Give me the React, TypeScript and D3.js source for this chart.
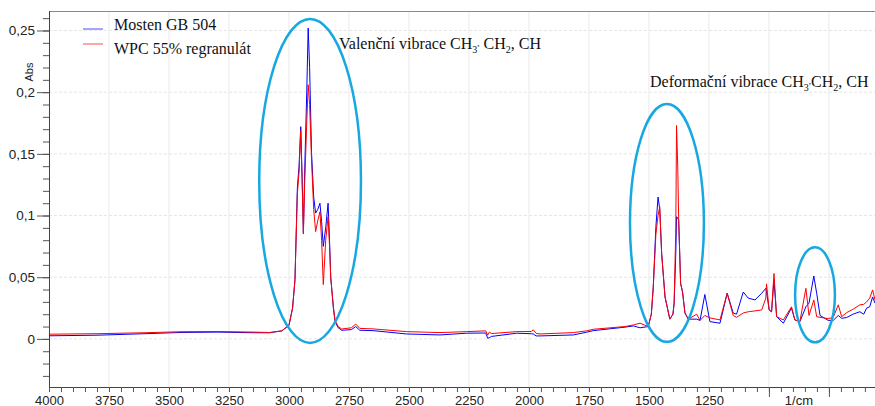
import React, { useEffect, useRef } from 'react'
import * as d3 from 'd3'

// wavenumber (1/cm) and absorbance
const WAVENUMBER = [
  4000, 3800, 3600, 3450, 3300, 3150, 3080, 3030, 3000, 2985, 2975, 2965, 2958, 2951, 2945, 2940,
  2934, 2926, 2920, 2914, 2906, 2897, 2889, 2880, 2871, 2864, 2857, 2847, 2837, 2831, 2826, 2815,
  2808, 2795, 2780, 2740, 2722, 2705, 2650, 2510, 2371, 2260, 2180, 2172, 2165, 2156, 2051, 1990,
  1982, 1970, 1954, 1815, 1760, 1732, 1600, 1565, 1537, 1503, 1490, 1482, 1471, 1462, 1455, 1447,
  1433, 1413, 1400, 1395, 1388, 1385, 1380, 1376, 1368, 1360, 1350, 1336, 1301, 1287, 1267, 1246,
  1204, 1174, 1149, 1135, 1107, 1086, 1058, 1030, 1013, 1010, 999, 989, 979, 968, 940, 906,
  892, 871, 846, 833, 813, 801, 787, 753, 732, 711, 697, 676, 650, 621, 605, 593,
  580, 568, 558,
]

const MOSTEN = [
  0.0025, 0.003, 0.0042, 0.0052, 0.0055, 0.005, 0.005, 0.0065, 0.011, 0.025, 0.048, 0.123, 0.14, 0.172, 0.13, 0.086,
  0.14, 0.2, 0.252, 0.22, 0.151, 0.115, 0.102, 0.105, 0.11, 0.095, 0.075, 0.09, 0.11, 0.08, 0.05, 0.025,
  0.014, 0.009, 0.007, 0.0075, 0.01, 0.007, 0.0067, 0.004, 0.0032, 0.0046, 0.0048, 0.0005, 0.001, 0.002, 0.0046, 0.0042,
  0.004, 0.0024, 0.0024, 0.0032, 0.0054, 0.0067, 0.0095, 0.0105, 0.009, 0.01, 0.02, 0.042, 0.091, 0.115, 0.105, 0.069,
  0.034, 0.016, 0.02, 0.029, 0.07, 0.099, 0.098, 0.096, 0.045, 0.038, 0.021, 0.016, 0.016, 0.015, 0.036, 0.014,
  0.0127, 0.037, 0.021, 0.02, 0.038, 0.033, 0.0316, 0.037, 0.041, 0.038, 0.0235, 0.022, 0.048, 0.018, 0.0127, 0.025,
  0.0154, 0.014, 0.026, 0.029, 0.051, 0.037, 0.019, 0.015, 0.015, 0.019, 0.0167, 0.0173, 0.02, 0.022, 0.02, 0.025,
  0.026, 0.034, 0.029,
]

const WPC = [
  0.0038, 0.0042, 0.005, 0.0058, 0.006, 0.0055, 0.0052, 0.0065, 0.011, 0.025, 0.048, 0.118, 0.135, 0.169, 0.125, 0.085,
  0.13, 0.175, 0.206, 0.19, 0.145, 0.105, 0.087, 0.096, 0.103, 0.08, 0.044, 0.08, 0.099, 0.075, 0.05, 0.026,
  0.015, 0.01, 0.008, 0.009, 0.012, 0.0085, 0.0081, 0.0059, 0.0051, 0.0059, 0.0065, 0.003, 0.0055, 0.0043, 0.0059, 0.006,
  0.0073, 0.0045, 0.004, 0.0051, 0.0065, 0.0078, 0.01, 0.0113, 0.0127, 0.01, 0.02, 0.042, 0.085, 0.1, 0.107, 0.069,
  0.034, 0.016, 0.02, 0.029, 0.09, 0.173, 0.14, 0.096, 0.045, 0.038, 0.021, 0.016, 0.02, 0.015, 0.019, 0.017,
  0.0154, 0.037, 0.019, 0.0175, 0.021, 0.022, 0.0227, 0.0235, 0.033, 0.0446, 0.0235, 0.022, 0.053, 0.018, 0.0154, 0.026,
  0.0154, 0.014, 0.041, 0.019, 0.0316, 0.018, 0.0175, 0.0164, 0.0175, 0.0276, 0.018, 0.0213, 0.024, 0.0276, 0.028, 0.03,
  0.033, 0.0397, 0.0316,
]

const SERIES_NAMES = ['Mosten GB 504', 'WPC 55% regranulát']
const SERIES_COLORS = ['#0000ff', '#ff0000']

const X_LABELS = [4000, 3750, 3500, 3250, 3000, 2750, 2500, 2250, 2000, 1750, 1500, 1250]
const X_UNLABELLED = [1000, 750]
const Y_LABELS = [0, 0.05, 0.1, 0.15, 0.2, 0.25]

// highlighted bands: centre wavenumber, centre abs, half-width (1/cm), half-height (abs)
const ELLIPSES = [
  { w: 2912, v: 0.128, dw: 212, dv: 0.1313 },
  { w: 1425, v: 0.094, dw: 154, dv: 0.0964 },
  { w: 808, v: 0.0357, dw: 83, dv: 0.0385 },
]

const App = () => {
  const svgRef = useRef<SVGSVGElement>(null)

  const width = 875
  const height = 406
  const margin = { top: 11, right: 0, bottom: 19, left: 49 }

  useEffect(() => {
    const svg = d3.select(svgRef.current)
    svg.selectAll('*').remove()

    const x = d3.scaleLinear().domain([4000, 558]).range([margin.left, width - margin.right])
    const y = d3.scaleLinear().domain([-0.039, 0.2658]).range([height - margin.bottom, margin.top])
    const sans = 'Liberation Sans, Arial, sans-serif'
    const serif = 'Liberation Serif, Times New Roman, serif'

    // grid
    svg.append('g')
      .selectAll('line')
      .data(X_LABELS.concat(X_UNLABELLED).filter(d => d !== 4000))
      .enter().append('line')
      .attr('x1', d => x(d)).attr('x2', d => x(d))
      .attr('y1', margin.top).attr('y2', height - margin.bottom)
      .attr('stroke', '#e9e9e9')
    svg.append('g')
      .selectAll('line')
      .data(Y_LABELS)
      .enter().append('line')
      .attr('x1', margin.left).attr('x2', width)
      .attr('y1', d => y(d)).attr('y2', d => y(d))
      .attr('stroke', '#e6e6e6')
      .attr('stroke-dasharray', '3,2')

    // top frame line
    svg.append('line')
      .attr('x1', margin.left).attr('x2', width)
      .attr('y1', margin.top + 0.5).attr('y2', margin.top + 0.5)
      .attr('stroke', '#8a8a8a')

    // y axis
    const yMinor = d3.range(-3, 27).map(i => i / 100)
    svg.append('g')
      .attr('transform', `translate(${margin.left},0)`)
      .call(d3.axisLeft(y).tickValues(yMinor).tickSize(6).tickFormat(() => ''))
      .call(g => g.select('.domain').remove())
      .selectAll('line').attr('stroke', '#555')
    const yAxis = svg.append('g')
      .attr('transform', `translate(${margin.left},0)`)
      .call(d3.axisLeft(y).tickValues(Y_LABELS).tickSize(12).tickPadding(2)
        .tickFormat(d => d3.format('~g')(d as number).replace('.', ',')))
    yAxis.select('.domain').attr('stroke', '#444').attr('d', `M0.5,${margin.top}V${height - margin.bottom}`)
    yAxis.selectAll('line').attr('stroke', '#555')
    yAxis.selectAll('text').attr('font-family', sans).attr('font-size', 13.5).attr('fill', '#222')

    svg.append('text')
      .attr('transform', 'translate(33,72) rotate(-90)')
      .attr('text-anchor', 'middle')
      .attr('font-family', sans).attr('font-size', 11).attr('fill', '#222')
      .text('Abs')

    // x axis
    const xAxisY = height - margin.bottom
    const xMinor = d3.range(0, 69).map(i => 4000 - i * 50)
    svg.append('g')
      .attr('transform', `translate(0,${xAxisY})`)
      .call(d3.axisBottom(x).tickValues(xMinor).tickSize(5).tickFormat(() => ''))
      .call(g => g.select('.domain').attr('stroke', '#444').attr('d', `M${margin.left},0.5H${width}`))
      .selectAll('line').attr('stroke', '#555')
    svg.append('g')
      .attr('transform', `translate(0,${xAxisY})`)
      .call(d3.axisBottom(x).tickValues(X_UNLABELLED).tickSize(10).tickFormat(() => ''))
      .call(g => g.select('.domain').remove())
      .selectAll('line').attr('stroke', '#555')
    const xAxis = svg.append('g')
      .attr('transform', `translate(0,${xAxisY})`)
      .call(d3.axisBottom(x).tickValues(X_LABELS).tickSize(5).tickFormat(d3.format('d')))
    xAxis.select('.domain').remove()
    xAxis.selectAll('line').attr('stroke', '#555')
    xAxis.selectAll('text')
      .attr('y', 17.5).attr('dy', null)
      .attr('font-family', sans).attr('font-size', 13).attr('fill', '#222')
    svg.append('text')
      .attr('x', (x(1000) + x(750)) / 2).attr('y', xAxisY + 17.5)
      .attr('text-anchor', 'middle')
      .attr('font-family', sans).attr('font-size', 13).attr('fill', '#222')
      .text('1/cm')

    // spectra
    const line = d3.line<number>()
      .x((_, i) => x(WAVENUMBER[i]))
      .y(d => y(d))
    ;[MOSTEN, WPC].forEach((vals, k) => {
      svg.append('path')
        .attr('d', line(vals))
        .attr('fill', 'none')
        .attr('stroke', SERIES_COLORS[k])
        .attr('stroke-width', 1)
        .attr('stroke-linejoin', 'round')
    })

    // legend
    SERIES_NAMES.forEach((name, k) => {
      const ly = 29 + k * 15
      svg.append('line')
        .attr('x1', 83).attr('x2', 103).attr('y1', ly).attr('y2', ly)
        .attr('stroke', SERIES_COLORS[k]).attr('stroke-opacity', 0.7)
      svg.append('text')
        .attr('x', 114).attr('y', 30 + k * 24)
        .attr('font-family', serif).attr('font-size', 16).attr('fill', '#111')
        .text(name)
    })

    // annotations
    const annotate = (label: string, tx: number, ty: number, gap: string) => {
      const t = svg.append('text')
        .attr('x', tx).attr('y', ty)
        .attr('font-family', serif).attr('font-size', 16).attr('fill', '#111')
      t.append('tspan').text(label + ' CH')
      t.append('tspan').attr('font-size', 10).attr('dy', 4).text('3')
      t.append('tspan').attr('font-size', 9).attr('dy', -7).text(',')
      t.append('tspan').attr('dy', 3).text(gap + 'CH')
      t.append('tspan').attr('font-size', 10).attr('dy', 4).text('2')
      t.append('tspan').attr('dy', -4).text(', CH')
    }
    annotate('Valenční vibrace', 339, 49, ' ')
    annotate('Deformační vibrace', 650, 87, '')

    // highlight ellipses
    svg.append('g')
      .selectAll('ellipse')
      .data(ELLIPSES)
      .enter().append('ellipse')
      .attr('cx', d => x(d.w))
      .attr('cy', d => y(d.v))
      .attr('rx', d => x(d.w - d.dw) - x(d.w))
      .attr('ry', d => y(d.v - d.dv) - y(d.v))
      .attr('fill', 'none')
      .attr('stroke', '#17a8e2')
      .attr('stroke-width', 2.5)
  }, [])

  return (
    <svg ref={svgRef} width={width} height={height}
      style={{ position: 'absolute', left: 0, top: 0, background: '#fff' }} />
  )
}

export default App
